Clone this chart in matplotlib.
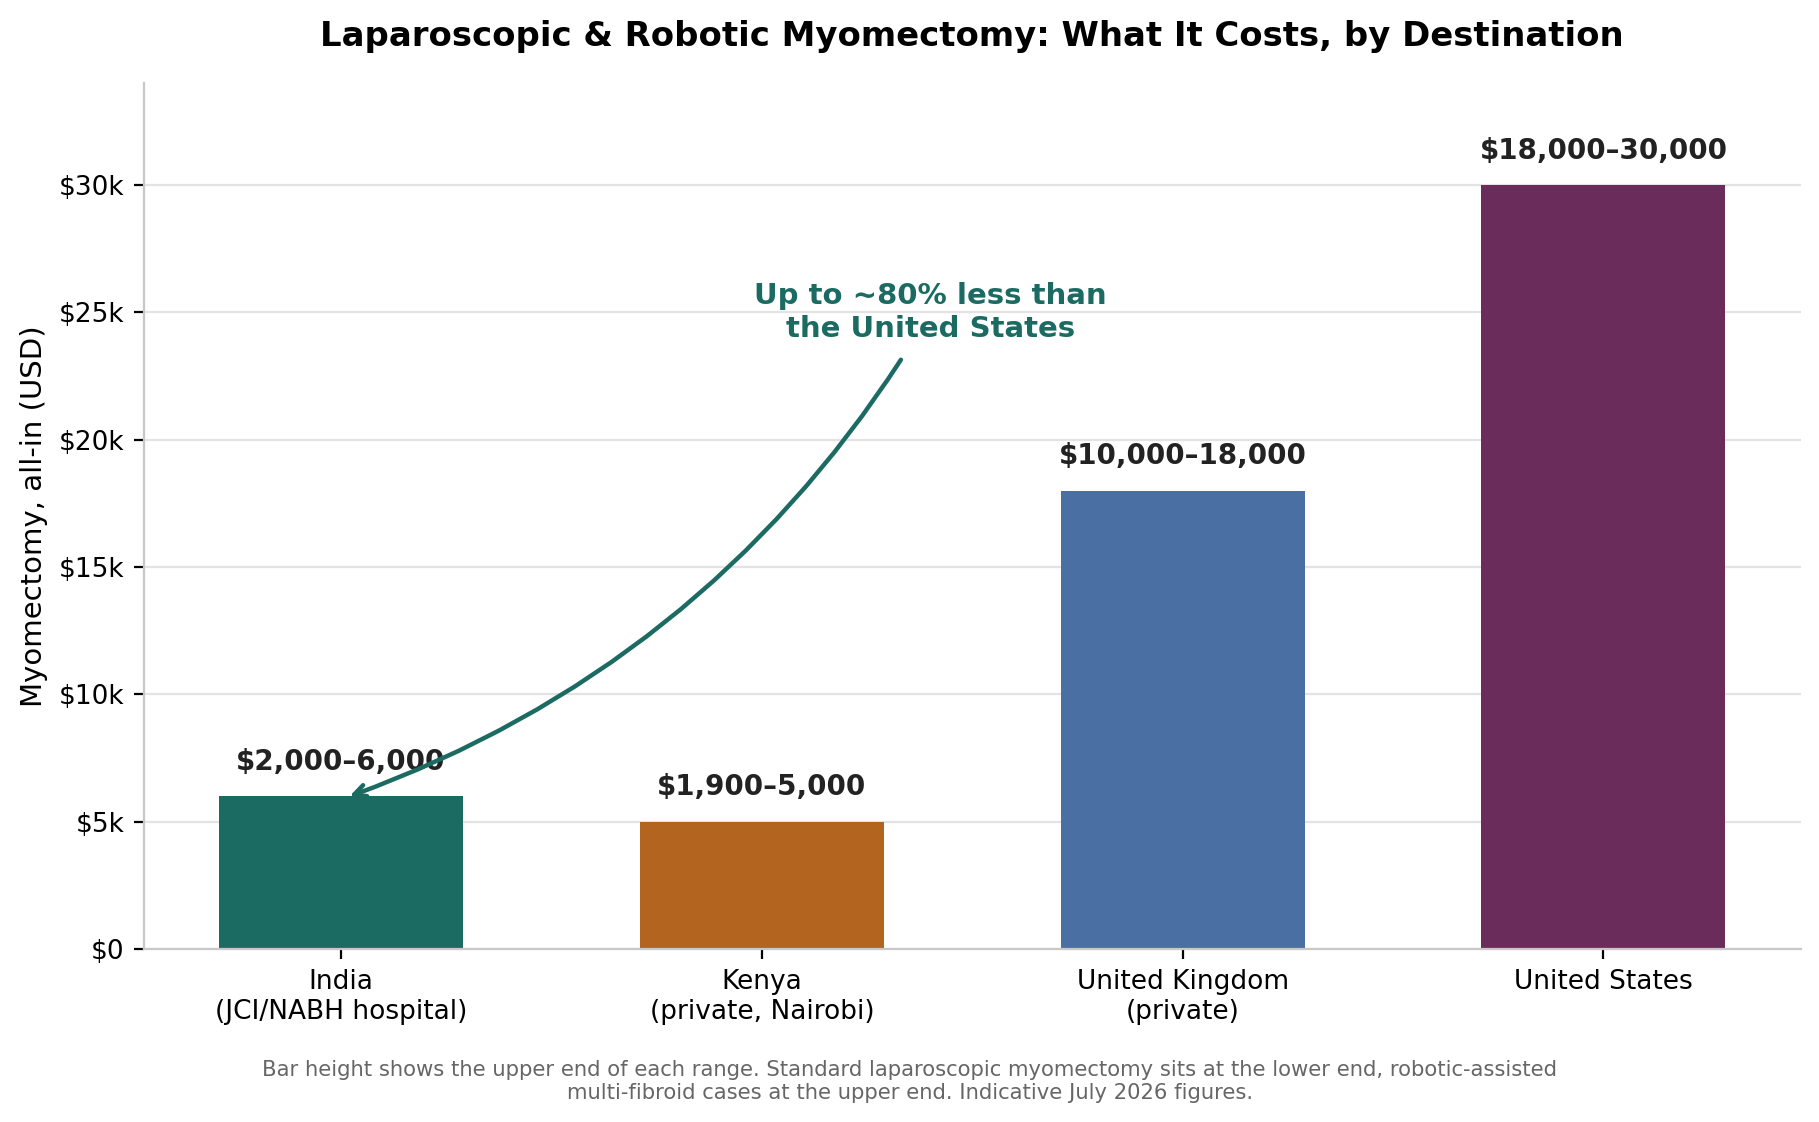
import matplotlib
matplotlib.use('Agg')
import matplotlib.pyplot as plt
from matplotlib.ticker import FuncFormatter

# destinations and cost ranges (USD)
countries = ['India\n(JCI/NABH hospital)', 'Kenya\n(private, Nairobi)',
             'United Kingdom\n(private)', 'United States']
low_cost = [2000, 1900, 10000, 18000]
high_cost = [6000, 5000, 18000, 30000]
bar_colors = ['#1c6b62', '#b3651f', '#4a6fa3', '#6a2d5b']

fig = plt.figure(figsize=(9.095, 5.61), dpi=200)
ax = fig.add_axes([0.079, 0.154, 0.911, 0.772])

x = range(len(countries))
ax.bar(x, high_cost, width=0.58, color=bar_colors, zorder=2)

# range label above each bar
for i, (lo, hi) in enumerate(zip(low_cost, high_cost)):
    ax.text(i, hi + 800, f'${lo:,}\u2013{hi:,}', ha='center', va='bottom',
            fontsize=10, fontweight='bold', color='#222222', zorder=3)

ax.set_xticks(list(x))
ax.set_xticklabels(countries, fontsize=9.5)
ax.set_ylim(0, 34000)
ax.set_yticks(range(0, 30001, 5000))
ax.yaxis.set_major_formatter(FuncFormatter(
    lambda v, p: '$0' if v == 0 else f'${int(v / 1000)}k'))
ax.tick_params(axis='y', labelsize=9.5)
ax.set_ylabel('Myomectomy, all-in (USD)', fontsize=10.5)

ax.grid(axis='y', color='#e3e3e3', linewidth=0.8, zorder=0)
ax.set_axisbelow(True)
for side in ['top', 'right']:
    ax.spines[side].set_visible(False)
for side in ['left', 'bottom']:
    ax.spines[side].set_color('#c8c8c8')

# savings callout
ax.annotate('Up to ~80% less than\nthe United States',
            xy=(0.02, high_cost[0]), xytext=(1.4, 25000),
            ha='center', va='center', fontsize=10.5, fontweight='bold',
            color='#1c6b62',
            arrowprops=dict(arrowstyle='->', color='#1c6b62', lw=1.6,
                            connectionstyle='arc3,rad=-0.18',
                            shrinkA=5, shrinkB=0))

fig.suptitle('Laparoscopic & Robotic Myomectomy: What It Costs, by Destination',
             fontsize=12.2, fontweight='bold', x=0.534, y=0.982)

fig.text(0.5, 0.036,
         'Bar height shows the upper end of each range. Standard laparoscopic myomectomy sits at the lower end, robotic-assisted\n'
         'multi-fibroid cases at the upper end. Indicative July 2026 figures.',
         ha='center', va='center', fontsize=7.6, color='#666666')

fig.savefig('out.png', dpi=200)
